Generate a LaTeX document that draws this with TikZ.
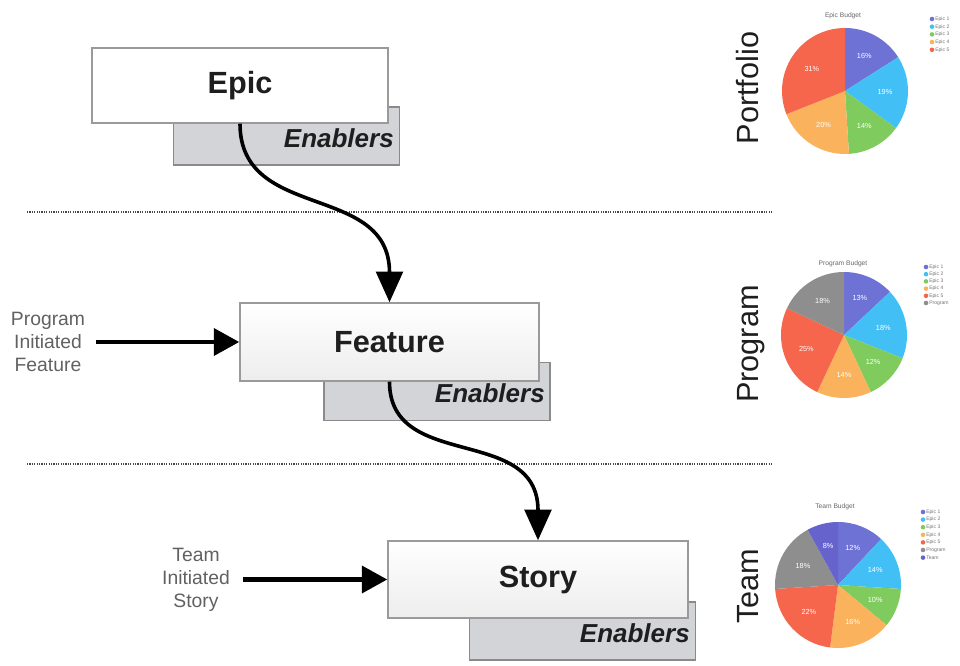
\documentclass[tikz,border=0pt]{standalone}
\usepackage{fontspec}
\setmainfont{Liberation Sans}
\usetikzlibrary{arrows.meta,calc}
\definecolor{cPur}{HTML}{6E72D4}
\definecolor{cBlu}{HTML}{42C0F6}
\definecolor{cGrn}{HTML}{80CB5E}
\definecolor{cOra}{HTML}{FBB25C}
\definecolor{cRed}{HTML}{F5664C}
\definecolor{cGry}{HTML}{8E8E8E}
\definecolor{cInd}{HTML}{6663CC}
\definecolor{boxline}{HTML}{9A9A9A}
\definecolor{enfill}{HTML}{D2D4D8}
\definecolor{enline}{HTML}{8A8A8A}
\definecolor{txt}{HTML}{1E1E1E}
\newcommand\pslice[4]{%
  \fill[#3] (0,0) -- (#1:63) arc[start angle=#1, end angle=#2, radius=63] -- cycle;
  \node[pct] at ({(#1+#2)/2}:40) {#4};}
\newcommand\pielegend[4]{%
  \foreach \c/\t [count=\i] in {#4} {
    \fill[\c] (#1,{#2+(\i-1)*#3}) circle[radius=2.3];
    \node[leg] at ({#1+3},{#2+(\i-1)*#3}) {\t};
  }}
\begin{document}
\begin{tikzpicture}[x=0.75pt,y=-0.75pt,
  whitebox/.style={draw=boxline, line width=1.1pt, fill=white, inner sep=0pt,
    minimum width=300*0.75pt, minimum height=77*0.75pt,
    font=\fontsize{23}{26}\selectfont\bfseries, text=txt},
  shadedbox/.style={top color=white, bottom color=black!7},
  enbox/.style={draw=enline, line width=1pt, fill=enfill, inner sep=0pt,
    minimum width=226*0.75pt, minimum height=58*0.75pt},
  entext/.style={font=\fontsize{19.5}{22}\selectfont\bfseries\itshape, text=txt,
    anchor=east, inner sep=0pt},
  flow/.style={line width=2.7pt, -{Triangle[length=23pt,width=20pt]}},
  side/.style={line width=3.4pt, -{Triangle[length=19pt,width=20pt]}},
  sidetext/.style={align=center, font=\fontsize{14.5}{17.3}\selectfont, text=black!62},
  level/.style={rotate=90, font=\fontsize{23}{26}\selectfont, text=txt, anchor=base},
  sep/.style={draw=black!72, line width=2.2pt, dash pattern=on 0.9pt off 0.9pt},
  pct/.style={font=\fontsize{5.5}{6.5}\selectfont, text=white, inner sep=0pt},
  ptitle/.style={font=\fontsize{5}{6}\selectfont, text=black!60, inner sep=0pt},
  leg/.style={font=\fontsize{3.8}{4.5}\selectfont, text=black!55, anchor=west, inner sep=0pt}]
\useasboundingbox (0,0) rectangle (960,666);

% separators
\coordinate (s1a) at (27,212); \coordinate (s1b) at (772,212);
\coordinate (s2a) at (27,464); \coordinate (s2b) at (772,464);
\draw[sep] (s1a) -- (s1b);
\draw[sep] (s2a) -- (s2b);

% Epic
\node[enbox] (epicEn) at (286.5,136) {};
\node[whitebox, minimum width=296*0.75pt, minimum height=75*0.75pt] (epic) at (240,85.5) {Epic};
\node[entext] (epicEnT) at (394,138) {Enablers};

% Feature
\node[enbox] (featEn) at (437,391.5) {};
\node[whitebox, shadedbox, minimum width=299*0.75pt, minimum height=78*0.75pt] (feat) at (389.5,342) {Feature};
\node[entext] (featEnT) at (545,393) {Enablers};

% Story
\node[enbox] (storyEn) at (582.5,631) {};
\node[whitebox, shadedbox] (story) at (538,579.5) {Story};
\node[entext] (storyEnT) at (690,633) {Enablers};

% flow curves
\draw[flow] (epic.south) .. controls (240,222) and (389.5,182) .. (feat.north);
\draw[flow] (feat.south) .. controls (389.5,472) and (538,424) .. (story.north);

% side inputs
\node[sidetext] (progT) at (48,342) {Program\\Initiated\\Feature};
\draw[side] ($(progT.east)+(6,0)$) -- (feat.west);
\node[sidetext] (teamT) at (196,579.5) {Team\\Initiated\\Story};
\draw[side] ($(teamT.east)+(8,0)$) -- (story.west);

% level labels
\node[level] (lvPort) at (758,88) {Portfolio};
\node[level] (lvProg) at (758,344) {Program};
\node[level] (lvTeam) at (758,586) {Team};

% Portfolio pie
\node[ptitle] (t1) at (843,16) {Epic Budget};
\begin{scope}[shift={(845,91)}, yscale=-1]
  \pslice{90}{32.4}{cPur}{16\%}
  \pslice{32.4}{-36}{cBlu}{19\%}
  \pslice{-36}{-86.4}{cGrn}{14\%}
  \pslice{-86.4}{-158.4}{cOra}{20\%}
  \pslice{-158.4}{-270}{cRed}{31\%}
\end{scope}
\pielegend{932}{19}{7.7}{cPur/Epic 1,cBlu/Epic 2,cGrn/Epic 3,cOra/Epic 4,cRed/Epic 5}

% Program pie
\node[ptitle] (t2) at (843,264) {Program Budget};
\begin{scope}[shift={(844,335)}, yscale=-1]
  \pslice{90}{43.2}{cPur}{13\%}
  \pslice{43.2}{-21.6}{cBlu}{18\%}
  \pslice{-21.6}{-64.8}{cGrn}{12\%}
  \pslice{-64.8}{-115.2}{cOra}{14\%}
  \pslice{-115.2}{-205.2}{cRed}{25\%}
  \pslice{-205.2}{-270}{cGry}{18\%}
\end{scope}
\pielegend{926}{267}{7.2}{cPur/Epic 1,cBlu/Epic 2,cGrn/Epic 3,cOra/Epic 4,cRed/Epic 5,cGry/Program}

% Team pie
\node[ptitle] (t3) at (835,507) {Team Budget};
\begin{scope}[shift={(838,585)}, yscale=-1]
  \pslice{90}{46.8}{cPur}{12\%}
  \pslice{46.8}{-3.6}{cBlu}{14\%}
  \pslice{-3.6}{-39.6}{cGrn}{10\%}
  \pslice{-39.6}{-97.2}{cOra}{16\%}
  \pslice{-97.2}{-176.4}{cRed}{22\%}
  \pslice{-176.4}{-241.2}{cGry}{18\%}
  \pslice{-241.2}{-270}{cInd}{8\%}
\end{scope}
\pielegend{923}{512}{7.6}{cPur/Epic 1,cBlu/Epic 2,cGrn/Epic 3,cOra/Epic 4,cRed/Epic 5,cGry/Program,cInd/Team}
\end{tikzpicture}
\end{document}
